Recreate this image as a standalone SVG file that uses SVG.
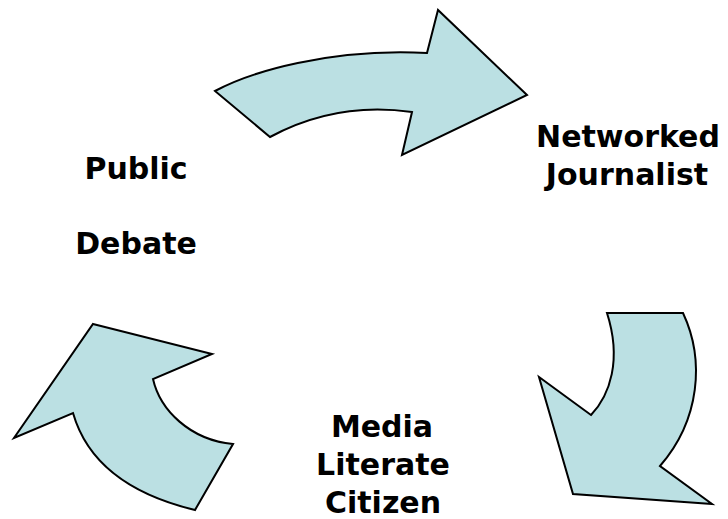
<svg xmlns="http://www.w3.org/2000/svg" width="728" height="519" viewBox="0 0 728 519">
  <style>
    .arrow { fill: #bbe0e3; stroke: #000000; stroke-width: 2; stroke-linejoin: miter; }
    .label { font-family: "DejaVu Sans", Verdana, sans-serif; font-weight: bold; font-size: 30px; fill: #000000; text-anchor: middle; }
  </style>
  <rect width="728" height="519" fill="#ffffff"/>

  <!-- curved block arrows forming the cycle -->
  <g id="connectors">
    <path id="arrow-top" class="arrow" d="M215,91 C250,72 330,48 427,53 L438,10 L527,95 L402,155 L412,112 C370,106 320,110 270,137 Z"/>
    <path id="arrow-right" class="arrow" d="M607,313 L683,313 C705,360 700,420 660,466 L712,504 L573,494 L539,377 L591,415 C610,395 622,360 607,313 Z"/>
    <path id="arrow-left" class="arrow" d="M93,324 L212,354 L153,379 C160,410 190,440 233,444 L195,510 C145,498 90,472 73,413 L14,438 Z"/>
  </g>

  <g id="node-public-debate">
    <text class="label" x="136" y="179">Public</text>
    <text class="label" x="136" y="254">Debate</text>
  </g>

  <g id="node-networked-journalist">
    <text class="label" x="628" y="147">Networked</text>
    <text class="label" x="627" y="185">Journalist</text>
  </g>

  <g id="node-media-literate-citizen">
    <text class="label" x="382" y="437">Media</text>
    <text class="label" x="383" y="475">Literate</text>
    <text class="label" x="383" y="513">Citizen</text>
  </g>
</svg>
